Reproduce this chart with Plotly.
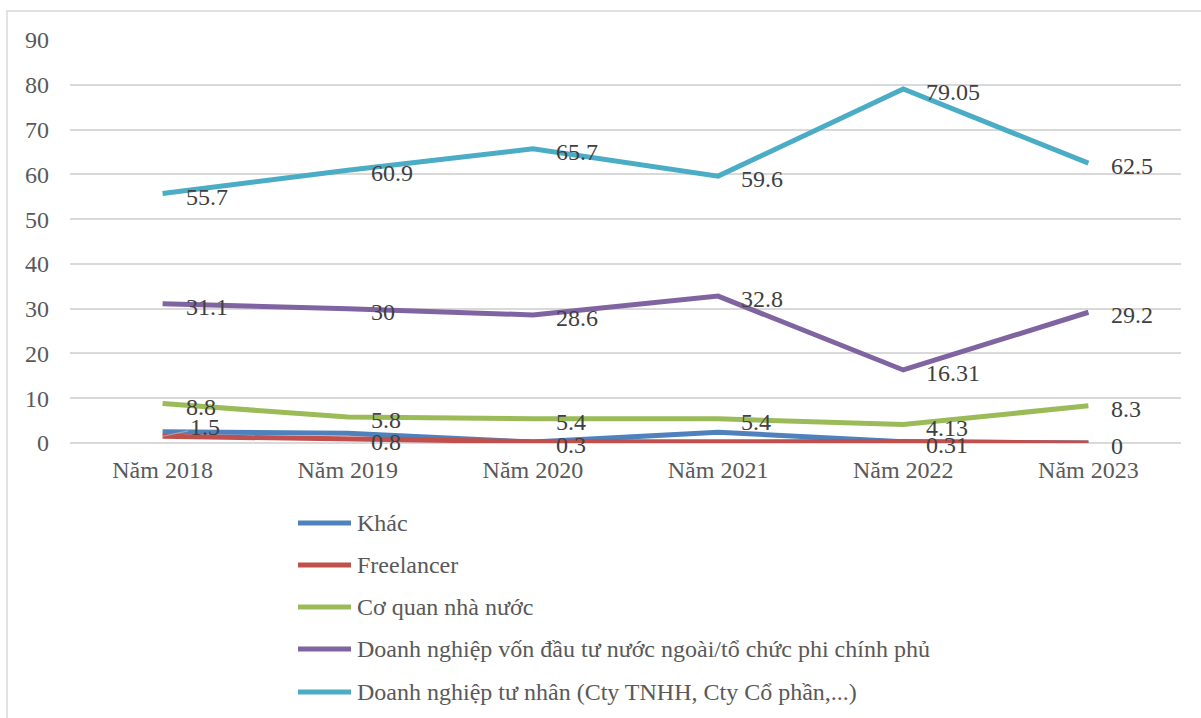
import plotly.graph_objects as go

years = ["Năm 2018", "Năm 2019", "Năm 2020", "Năm 2021", "Năm 2022", "Năm 2023"]

series_names = [
    "Khác",
    "Freelancer",
    "Cơ quan nhà nước",
    "Doanh nghiệp vốn đầu tư nước ngoài/tổ chức phi chính phủ",
    "Doanh nghiệp tư nhân (Cty TNHH, Cty Cổ phần,...)",
]

khac = [2.5, 2.2, 0.2, 2.4, 0.3, 0.0]
freelancer = [1.5, 0.8, 0.3, 0.3, 0.31, 0.0]
co_quan = [8.8, 5.8, 5.4, 5.4, 4.13, 8.3]
fdi = [31.1, 30.0, 28.6, 32.8, 16.31, 29.2]
tu_nhan = [55.7, 60.9, 65.7, 59.6, 79.05, 62.5]

# data labels shown in the reference ("" = no label)
khac_labels = ["", "", "", "", "", ""]
freelancer_labels = ["1.5", "0.8", "0.3", "", "0.31", "0"]
co_quan_labels = ["8.8", "5.8", "5.4", "5.4", "4.13", "8.3"]
fdi_labels = ["31.1", "30", "28.6", "32.8", "16.31", "29.2"]
tu_nhan_labels = ["55.7", "60.9", "65.7", "59.6", "79.05", "62.5"]

colors = ["#4F81BD", "#C0504D", "#9BBB59", "#8064A2", "#4BACC6"]

all_values = [khac, freelancer, co_quan, fdi, tu_nhan]
all_labels = [khac_labels, freelancer_labels, co_quan_labels, fdi_labels, tu_nhan_labels]

FONT = "Times New Roman, 'Liberation Serif', 'DejaVu Serif', serif"
W, H = 1201, 718
ML, MR, MT, MB = 70, 20, 40, 275
PW = W - ML - MR
PH = H - MT - MB


def px_x(p):
    return (p - ML) / PW


def px_y(p):
    return (H - MB - p) / PH


fig = go.Figure()
for name, vals, col in zip(series_names, all_values, colors):
    fig.add_trace(go.Scatter(
        x=years, y=vals, mode="lines", name=name,
        line=dict(color=col, width=5),
        showlegend=False, hoverinfo="skip",
    ))

annotations = []
for s, (vals, labs) in enumerate(zip(all_values, all_labels)):
    for i, (v, t) in enumerate(zip(vals, labs)):
        if not t:
            continue
        if s == 1 and i == 0:
            # label with leader line
            annotations.append(dict(
                x=years[i], y=v, text=t, showarrow=True, arrowhead=0,
                arrowwidth=1.2, arrowcolor="#A6A6A6", ax=42, ay=-9,
                xanchor="center", yanchor="middle",
                font=dict(family=FONT, size=24, color="#404040"),
            ))
            continue
        annotations.append(dict(
            x=years[i], y=v, text=t, showarrow=False,
            xanchor="left", yanchor="middle", xshift=21, yshift=-3,
            font=dict(family=FONT, size=24, color="#404040"),
        ))

# manual legend
legend_rows = [523, 565, 607, 649, 692]
shapes = []
for name, col, ry in zip(series_names, colors, legend_rows):
    shapes.append(dict(
        type="line", xref="paper", yref="paper",
        x0=px_x(298), x1=px_x(351), y0=px_y(ry), y1=px_y(ry),
        line=dict(color=col, width=5),
    ))
    annotations.append(dict(
        xref="paper", yref="paper", x=px_x(355), y=px_y(ry),
        text=name, showarrow=False, xanchor="left", yanchor="middle",
        font=dict(family=FONT, size=24, color="#595959"),
    ))

# outer chart border (extends beyond the picture on right and bottom)
shapes.append(dict(
    type="rect", xref="paper", yref="paper",
    x0=px_x(7), x1=px_x(1230), y0=px_y(11), y1=px_y(740),
    line=dict(color="#D9D9D9", width=1.5), layer="below",
))

fig.update_layout(
    width=W, height=H,
    margin=dict(l=ML, r=MR, t=MT, b=MB),
    paper_bgcolor="white", plot_bgcolor="white",
    font=dict(family=FONT, size=24, color="#595959"),
    xaxis=dict(
        type="category", range=[-0.5, 5.5], showgrid=False, showline=False,
        zeroline=False, ticks="", ticklabelstandoff=10,
        tickfont=dict(family=FONT, size=24, color="#595959"),
    ),
    yaxis=dict(
        range=[0, 90], dtick=10, showgrid=True, gridcolor="#D9D9D9",
        gridwidth=1.5, zeroline=True, zerolinecolor="#D9D9D9", zerolinewidth=1.5,
        showline=False, ticks="", ticklabelstandoff=20,
        tickfont=dict(family=FONT, size=24, color="#595959"),
    ),
    annotations=annotations,
    shapes=shapes,
    showlegend=False,
)

fig.write_html("out.html")
